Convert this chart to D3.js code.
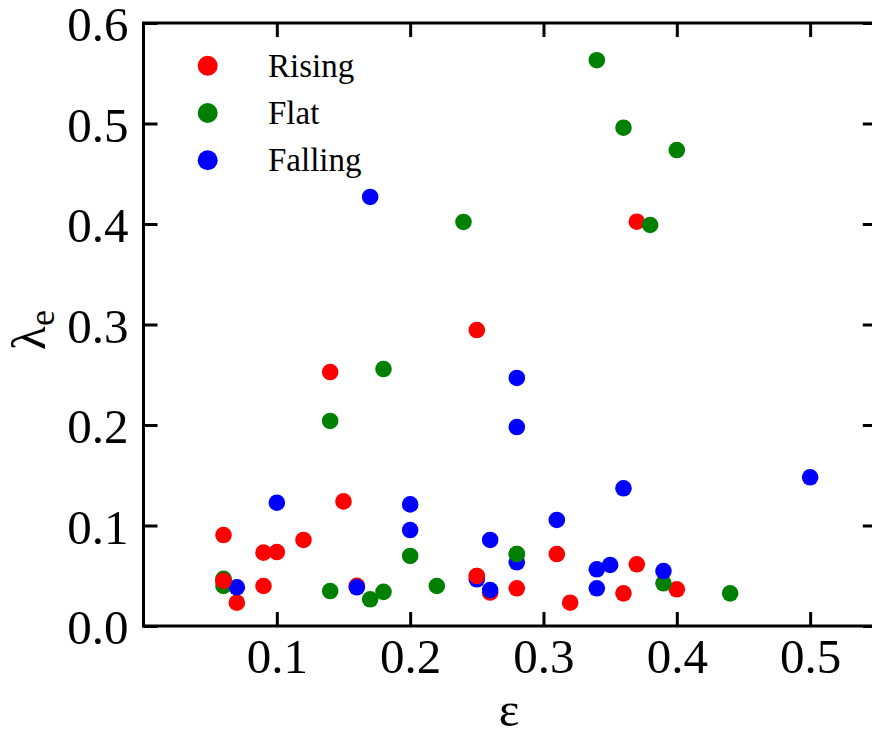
<!DOCTYPE html>
<html>
<head>
<meta charset="utf-8">
<script src="https://cdn.jsdelivr.net/npm/d3@7/dist/d3.min.js"></script>
<style>
  html, body { margin: 0; padding: 0; background: #fff; }
  svg { display: block; }
  text { font-family: "Liberation Serif", "Times New Roman", serif; fill: #000; }
</style>
</head>
<body>
<svg id="chart" width="872" height="731"></svg>
<script>
// ---- data ----
const seriesNames = ["Rising", "Flat", "Falling"];
const seriesColors = ["#ff0000", "#008000", "#0000ff"];

const risingX = [0.06, 0.06, 0.07, 0.09, 0.10, 0.09, 0.12, 0.14, 0.15, 0.16, 0.25, 0.25, 0.26, 0.28, 0.31, 0.32, 0.36, 0.37, 0.37, 0.40];
const risingY = [0.0905, 0.045, 0.0232, 0.073, 0.0736, 0.0398, 0.0856, 0.2527, 0.124, 0.040, 0.2945, 0.0497, 0.0333, 0.0375, 0.0716, 0.0232, 0.0325, 0.0614, 0.4023, 0.0365];

const flatX = [0.06, 0.06, 0.14, 0.14, 0.17, 0.18, 0.18, 0.20, 0.22, 0.24, 0.28, 0.34, 0.36, 0.38, 0.40, 0.39, 0.44];
const flatY = [0.047, 0.0398, 0.0348, 0.204, 0.0266, 0.034, 0.2557, 0.0697, 0.0398, 0.402, 0.0716, 0.563, 0.4958, 0.399, 0.4736, 0.0425, 0.0325];

const fallingX = [0.07, 0.10, 0.16, 0.17, 0.20, 0.20, 0.25, 0.26, 0.26, 0.28, 0.28, 0.28, 0.31, 0.34, 0.35, 0.34, 0.36, 0.39, 0.50];
const fallingY = [0.0385, 0.1227, 0.0385, 0.4269, 0.121, 0.0955, 0.0465, 0.0856, 0.0358, 0.2468, 0.198, 0.0634, 0.1055, 0.0564, 0.0607, 0.0375, 0.137, 0.0547, 0.148];

const xTicks = [0.1, 0.2, 0.3, 0.4, 0.5];
const yTicks = [0.0, 0.1, 0.2, 0.3, 0.4, 0.5, 0.6];
const xDomain = [0, 0.55];
const yDomain = [0, 0.6];

// points drawn again on top (overlap order seen in the reference): [seriesIndex, pointIndex]
const frontPoints = [[0, 1], [0, 11], [1, 10]];

// ---- layout ----
const svg = d3.select("#chart");
const padL = 143.5, padR = 876.8, padT = 23, padB = 626;
const x = d3.scaleLinear().domain(xDomain).range([padL, padR]);
const y = d3.scaleLinear().domain(yDomain).range([padB, padT]);
const fmt = d3.format(".1f");
const tickLen = 14;
const fontSize = 49;

// points
const series = [
  risingX.map((v, i) => ({x: v, y: risingY[i]})),
  flatX.map((v, i) => ({x: v, y: flatY[i]})),
  fallingX.map((v, i) => ({x: v, y: fallingY[i]}))
];
const gPts = svg.append("g");
series.forEach((pts, s) => {
  gPts.selectAll(null).data(pts).enter().append("circle")
    .attr("cx", d => x(d.x)).attr("cy", d => y(d.y)).attr("r", 8.3)
    .attr("fill", seriesColors[s]);
});
frontPoints.forEach(([s, i]) => {
  const d = series[s][i];
  gPts.append("circle").attr("cx", x(d.x)).attr("cy", y(d.y)).attr("r", 8.3).attr("fill", seriesColors[s]);
});

// axes
function styleAxis(g) {
  g.select(".domain").remove();
  g.selectAll(".tick line").attr("stroke", "#000").attr("stroke-width", 3);
  g.selectAll(".tick text").style("font-size", fontSize + "px").attr("font-family", "Liberation Serif");
}
const gx = svg.append("g").attr("transform", `translate(0,${padB})`)
  .call(d3.axisBottom(x).tickValues(xTicks).tickFormat(fmt).tickSizeInner(-tickLen).tickSizeOuter(0).tickPadding(12));
styleAxis(gx);
const gy = svg.append("g").attr("transform", `translate(${padL},0)`)
  .call(d3.axisLeft(y).tickValues(yTicks).tickFormat(fmt).tickSizeInner(-tickLen).tickSizeOuter(0).tickPadding(15));
styleAxis(gy);
gy.selectAll(".tick text").attr("dy", "0.36em");
const gt = svg.append("g").attr("transform", `translate(0,${padT})`)
  .call(d3.axisTop(x).tickValues(xTicks).tickFormat("").tickSizeInner(-tickLen).tickSizeOuter(0));
styleAxis(gt);
const gr = svg.append("g").attr("transform", `translate(${padR},0)`)
  .call(d3.axisRight(y).tickValues(yTicks).tickFormat("").tickSizeInner(-tickLen).tickSizeOuter(0));
styleAxis(gr);

// frame
svg.append("rect").attr("x", padL).attr("y", padT).attr("width", padR - padL).attr("height", padB - padT)
  .attr("fill", "none").attr("stroke", "#000").attr("stroke-width", 3);

// axis labels
svg.append("text").attr("x", (padL + padR) / 2 - 1).attr("y", 726)
  .attr("text-anchor", "middle").style("font-size", fontSize + "px").text("ε");

const yl = svg.append("text").attr("transform", "translate(45,330) rotate(-90)")
  .attr("text-anchor", "middle").style("font-size", fontSize + "px");
yl.append("tspan").text("λ");
yl.append("tspan").attr("dy", "0.25em").style("font-size", "36px").text("e");

// legend
const legY0 = 65.7, legStep = 47.3;
seriesNames.forEach((name, i) => {
  svg.append("circle").attr("cx", 207.7).attr("cy", legY0 + i * legStep).attr("r", 10).attr("fill", seriesColors[i]);
  svg.append("text").attr("x", 268).attr("y", legY0 + i * legStep + 11).style("font-size", "33px").text(name);
});
</script>
</body>
</html>
